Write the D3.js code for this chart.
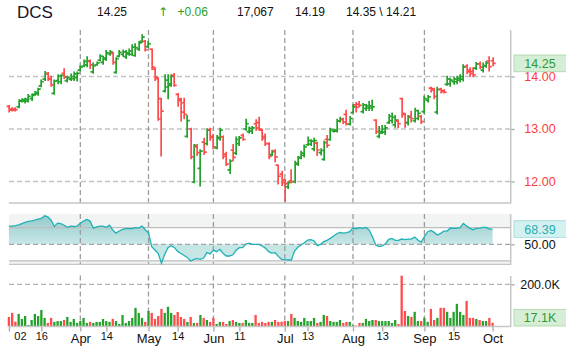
<!DOCTYPE html>
<html>
<head>
<meta charset="utf-8">
<script src="https://cdn.jsdelivr.net/npm/d3@7"></script>
<style>
  body { margin: 0; background: #fff; }
  svg { display: block; font-family: "Liberation Sans", Arial, sans-serif; }
</style>
</head>
<body>
<svg id="chart" width="566" height="348"></svg>
<script>
// ---- DCS daily bars, Mar 2 – Oct 1 ----
const open = [13.43,13.38,13.38,13.42,13.53,13.53,13.53,13.58,13.66,13.67,
  13.82,13.95,14.05,13.96,13.68,13.92,13.90,14.06,13.92,13.95,
  13.96,13.98,14.12,14.20,14.22,14.29,14.09,14.22,14.31,14.27,
  14.33,14.43,14.44,14.08,14.39,14.42,14.38,14.43,14.42,14.40,
  14.52,14.67,14.67,14.57,14.52,14.14,13.96,13.58,13.72,13.80,
  13.83,14.02,13.66,13.57,13.50,12.86,13.00,11.99,12.66,12.25,
  12.75,12.72,12.99,12.84,12.64,12.82,12.85,12.52,12.22,12.60,
  12.54,12.72,12.88,13.00,12.95,12.96,13.10,13.12,12.98,12.86,
  12.72,12.51,12.58,12.31,12.14,12.03,11.90,12.01,12.00,12.33,
  12.46,12.50,12.70,12.71,12.62,12.73,12.55,12.42,12.80,12.80,
  12.96,12.96,13.15,13.18,13.28,13.09,13.31,13.46,13.47,13.33,
  13.39,13.40,13.40,13.17,12.86,12.95,12.94,13.12,13.16,13.08,
  13.15,13.58,13.28,13.12,13.24,13.16,13.20,13.24,13.33,13.55,
  13.78,13.77,13.32,13.76,13.73,13.85,13.86,13.90,13.90,13.93,
  13.95,14.20,14.12,14.10,14.16,14.24,14.12,14.20,14.30,14.30];
const high = [13.44,13.40,13.40,13.55,13.57,13.58,13.65,13.66,13.71,13.77,
  13.93,14.09,14.07,14.00,13.93,14.03,14.03,14.14,14.00,14.04,
  14.08,14.08,14.20,14.31,14.37,14.31,14.25,14.27,14.41,14.38,
  14.49,14.49,14.45,14.35,14.49,14.50,14.49,14.52,14.60,14.62,
  14.66,14.79,14.68,14.66,14.52,14.16,13.97,13.58,14.03,14.03,
  14.03,14.05,13.67,13.58,13.58,13.25,13.01,12.70,12.70,12.60,
  12.82,13.00,13.01,12.89,12.87,13.01,12.86,12.55,12.41,12.70,
  12.84,12.85,12.90,13.18,13.03,13.04,13.17,13.22,12.99,12.90,
  12.73,12.59,12.60,12.31,12.19,12.03,11.99,12.22,12.38,12.47,
  12.57,12.69,12.84,12.79,12.82,12.74,12.62,12.76,12.87,13.01,
  12.99,13.18,13.22,13.20,13.35,13.23,13.46,13.50,13.52,13.48,
  13.46,13.52,13.54,13.17,13.04,13.06,13.06,13.27,13.30,13.25,
  13.17,13.58,13.29,13.25,13.33,13.39,13.35,13.25,13.62,13.63,
  13.79,13.77,13.79,13.77,13.74,14.00,13.96,13.98,14.00,14.03,
  14.22,14.22,14.16,14.16,14.26,14.27,14.25,14.28,14.37,14.35];
const low = [13.33,13.35,13.35,13.41,13.52,13.50,13.52,13.55,13.65,13.65,
  13.81,13.93,13.93,13.82,13.67,13.87,13.87,13.97,13.90,13.93,
  13.93,13.92,14.11,14.19,14.19,14.16,14.07,14.22,14.30,14.24,
  14.31,14.41,14.24,14.07,14.38,14.39,14.35,14.41,14.41,14.39,
  14.50,14.66,14.49,14.56,14.14,13.93,13.17,12.49,13.71,13.58,
  13.82,13.82,13.44,13.16,13.20,12.85,12.44,11.98,12.50,11.92,
  12.52,12.70,12.79,12.63,12.63,12.79,12.44,12.31,12.16,12.40,
  12.52,12.69,12.79,12.98,12.93,12.92,12.98,12.98,12.79,12.69,
  12.44,12.50,12.38,11.96,11.93,11.63,11.87,11.98,11.98,12.31,
  12.44,12.47,12.69,12.69,12.59,12.50,12.51,12.41,12.66,12.79,
  12.95,12.95,13.14,13.11,13.08,13.08,13.31,13.33,13.43,13.31,
  13.36,13.36,13.36,12.92,12.84,12.92,12.90,13.11,13.12,13.04,
  13.03,13.23,13.04,13.08,13.14,13.14,13.18,13.11,13.31,13.52,
  13.71,13.58,13.29,13.69,13.69,13.84,13.82,13.86,13.87,13.90,
  13.92,14.06,14.01,14.00,14.14,14.16,14.09,14.18,14.11,14.21];
const close = [13.36,13.36,13.37,13.54,13.56,13.57,13.62,13.64,13.70,13.76,
  13.90,14.06,13.95,13.84,13.91,14.01,14.02,13.99,13.98,14.00,
  14.05,14.06,14.18,14.29,14.30,14.22,14.20,14.26,14.39,14.35,
  14.45,14.47,14.27,14.34,14.46,14.47,14.45,14.49,14.56,14.55,
  14.64,14.75,14.51,14.62,14.18,13.99,13.19,13.34,13.93,13.86,
  14.00,13.83,13.54,13.32,13.28,13.16,12.47,12.69,12.55,12.58,
  12.56,12.98,12.86,12.66,12.84,12.98,12.48,12.33,12.39,12.46,
  12.80,12.83,12.80,13.10,13.01,13.02,13.02,13.00,12.82,12.72,
  12.48,12.57,12.47,12.10,11.98,11.96,11.98,11.99,12.35,12.45,
  12.54,12.66,12.78,12.77,12.78,12.60,12.59,12.74,12.69,12.99,
  12.98,13.15,13.19,13.13,13.10,13.20,13.42,13.41,13.45,13.46,
  13.44,13.44,13.42,12.95,12.92,13.00,13.02,13.24,13.22,13.17,
  13.10,13.30,13.12,13.22,13.20,13.35,13.30,13.14,13.58,13.61,
  13.74,13.62,13.75,13.71,13.70,13.95,13.93,13.95,13.97,14.00,
  14.18,14.09,14.06,14.03,14.24,14.18,14.21,14.26,14.19,14.25];
const volume = [44600,64000,22000,59000,35000,49000,6000,30000,59000,49000,
  78000,40000,16000,40000,21000,25000,25000,30000,44600,21000,
  35000,16000,25000,40000,16000,21000,16000,21000,21000,35000,
  25000,21000,35000,25000,11000,54000,16000,25000,40000,88000,
  64000,40000,21000,73000,64000,35000,49000,83000,64000,93000,
  64000,54000,68000,44600,35000,21000,44600,16000,16000,54000,
  40000,30000,21000,40000,11000,21000,21000,11000,25000,30000,
  21000,16000,16000,30000,16000,16000,54000,16000,21000,16000,
  21000,21000,30000,21000,22000,25000,25000,59000,40000,25000,
  21000,40000,25000,25000,40000,16000,21000,54000,49000,25000,
  21000,21000,30000,16000,21000,21000,6000,3000,16000,16000,
  35000,25000,30000,30000,25000,25000,25000,25000,16000,30000,
  11000,241000,73000,49000,45000,69000,25000,25000,40000,21000,
  83000,30000,40000,88000,88000,69000,40000,69000,107000,69000,
  54000,121000,40000,40000,35000,30000,25000,25000,40000,17067];
const rsi = [72,72,72.5,73.5,75,76.5,77.5,78.2,79.2,80.4,
  81.2,84.4,83,79,71.5,75.5,75,73,70.4,72,
  71.5,72,75.3,78,80,78,69.5,71,72,72,
  70.5,73,67.2,63.5,66,68,69,69,69,70,
  69.5,72,67.5,64,47.2,43.2,39,27.2,38,46,
  48.4,46,41.5,39,36.5,34,30,32,32.8,32,
  33.5,40,38.5,43,41.2,44,39,36,36,37.5,
  43,46,46,50.2,51.4,50,50,50,48,45.5,
  41.2,39.5,40,35.5,32,31.5,31.2,31.2,42,46.4,
  49.2,52,55.2,55.6,54.4,48.4,50,53.2,54.8,57.2,
  60,62.8,64.4,63.6,64,65.2,69.6,68.8,70,69.2,
  70.4,67.2,59.2,49.2,47.2,48,50.8,56,57.2,54.8,
  54.8,56.4,55.6,56.4,56.4,58.8,55.2,52.4,59.2,65.2,
  66.8,64.4,61.2,63.2,66,66,69.6,69.2,69.2,70,
  75.2,72,69.2,67.6,69.2,69.6,70.4,70.4,68.4,68.39];

// x-axis ticks (bar index) and their labels
const tickIndex = [0,10,22,30,43,52,63,71,85,92,106,115,128,137,149];
const tickLabel = ["02","16","Apr","14","May","14","Jun","11","Jul","13","Aug","13","Sep","15","Oct"];
const monthStarts = [22,43,63,85,106,128];
const priceTicks = [12,13,14];
const rsiBands = [70,50,30];
const volumeTicks = [200000];
const header = { symbol: "DCS", last: "14.25", change: "+0.06", vol: "17,067", prev: "14.19", hiLo: "14.35 \\ 14.21" };

const UP = "#23a12a", DOWN = "#ff4b4b";
const GRID_V = "#9c9c9c", GRID_H = "#c2c2c2", FRAME = "#c6c6c6";

const svg = d3.select("#chart");
const left = 9, right = 510.7;

const x = d3.scaleLinear().domain([0, 154.4]).range([8.9, 510.1]);
const yP = d3.scaleLinear().domain([11.59, 14.886]).range([203, 30]);
const yR = d3.scaleLinear().domain([26, 86.5]).range([264.3, 214]);
const yV = d3.scaleLinear().domain([0, 242000]).range([326.3, 275.5]);

const n = close.length;
const idx = d3.range(n);
const colorOf = i => close[i] >= open[i] ? UP : DOWN;

// ---------- header ----------
const hdr = svg.append("g").attr("font-size", 12).attr("fill", "#111");
hdr.append("text").attr("x", 17).attr("y", 17.5).attr("font-size", 17).attr("fill", "#15132b").text(header.symbol);
hdr.append("text").attr("x", 97).attr("y", 16).text(header.last);
hdr.append("text").attr("x", 158).attr("y", 16).attr("fill", UP).attr("font-family", "DejaVu Sans").attr("font-size", 12).text("\u2191");
hdr.append("text").attr("x", 177.5).attr("y", 16).attr("fill", UP).text(header.change);
hdr.append("text").attr("x", 237).attr("y", 16).text(header.vol);
hdr.append("text").attr("x", 295).attr("y", 16).text(header.prev);
hdr.append("text").attr("x", 346).attr("y", 16).text(header.hiLo);

// ---------- helpers ----------
function vGrid(y0, y1) {
  svg.append("g").selectAll("line").data(monthStarts).join("line")
    .attr("x1", d => x(d)).attr("x2", d => x(d))
    .attr("y1", y0).attr("y2", y1)
    .attr("stroke", GRID_V).attr("stroke-width", 1.3).attr("stroke-dasharray", "5,3");
}
function hLine(y, dashed, color) {
  svg.append("line").attr("x1", left).attr("x2", right).attr("y1", y).attr("y2", y)
    .attr("stroke", color).attr("stroke-width", 1.3)
    .attr("stroke-dasharray", dashed ? "5,3" : null);
}
function rightAxis(scale, values, fmt, y0, y1, color) {
  const g = svg.append("g").attr("transform", `translate(${right},0)`)
    .call(d3.axisRight(scale).tickValues(values).tickFormat(fmt).tickSize(4).tickPadding(0));
  g.select(".domain").remove();
  g.selectAll(".tick line").attr("stroke", "#a8a8a8").attr("stroke-width", 1.3);
  g.selectAll(".tick text").attr("x", 540 - right).attr("text-anchor", "middle")
    .attr("font-size", 12.5).attr("font-family", "Liberation Sans, Arial, sans-serif").attr("fill", color);
  svg.append("line").attr("x1", right).attr("x2", right).attr("y1", y0).attr("y2", y1)
    .attr("stroke", FRAME).attr("stroke-width", 1.5);
}
function valueBox(cy, text, fill, stroke, color) {
  const g = svg.append("g");
  g.append("rect").attr("x", 514).attr("y", cy - 8.3).attr("width", 53).attr("height", 16.6)
    .attr("fill", fill).attr("stroke", stroke).attr("stroke-width", 1);
  g.append("text").attr("x", 540).attr("y", cy).attr("dy", "0.36em").attr("text-anchor", "middle")
    .attr("font-size", 12.5).attr("fill", color).text(text);
}

// ---------- price panel ----------
priceTicks.forEach(v => hLine(yP(v), true, GRID_H));
vGrid(30, 203);
hLine(203, false, FRAME);
rightAxis(yP, priceTicks, d3.format(".2f"), 30, 203.5, "#ff3b3b");

const bars = svg.append("g").attr("stroke-width", 1.7).attr("fill", "none");
bars.selectAll("path").data(idx).join("path")
  .attr("stroke", colorOf)
  .attr("d", i => {
    const cx = Math.round(x(i)) + 0.15;
    return `M${cx},${yP(high[i]) - 0.8}V${yP(low[i]) + 0.8}` +
           `M${cx - 2.6},${yP(open[i])}H${cx}` +
           `M${cx},${yP(close[i])}H${cx + 2.6}`;
  });

valueBox(yP(close[n - 1]), close[n - 1].toFixed(2), "#d6eed6", "#b3dbb3", "#2f9a35");

// ---------- RSI panel ----------
svg.append("rect").attr("x", left).attr("y", 214).attr("width", right - left).attr("height", yR(70) - 214).attr("fill", "#f2f4f4");
svg.append("rect").attr("x", left).attr("y", yR(30)).attr("width", right - left).attr("height", 264.3 - yR(30)).attr("fill", "#f2f4f4");

const defs = svg.append("defs");
const grad = defs.append("linearGradient").attr("id", "rsiUp")
  .attr("gradientUnits", "userSpaceOnUse").attr("x1", 0).attr("x2", 0).attr("y1", 214).attr("y2", yR(50));
grad.append("stop").attr("offset", 0).attr("stop-color", "#92c9c9");
grad.append("stop").attr("offset", 1).attr("stop-color", "#c9e7e7");
defs.append("clipPath").attr("id", "above").append("rect")
  .attr("x", 0).attr("y", 200).attr("width", 566).attr("height", yR(50) - 200);
defs.append("clipPath").attr("id", "below").append("rect")
  .attr("x", 0).attr("y", yR(50)).attr("width", 566).attr("height", 80);

const rsiArea = d3.area().x(i => x(i)).y0(yR(50)).y1(i => yR(rsi[i]));
svg.append("path").datum(idx).attr("d", rsiArea).attr("fill", "url(#rsiUp)").attr("clip-path", "url(#above)");
svg.append("path").datum(idx).attr("d", rsiArea).attr("fill", "#c6e6e6").attr("clip-path", "url(#below)");

hLine(yR(70), false, "#bdbdbd");
hLine(yR(30), false, "#bdbdbd");
hLine(yR(50), true, "#a6a6a6");
vGrid(214, 264.3);
hLine(264.3, false, FRAME);

svg.append("path").datum(idx)
  .attr("d", d3.line().x(i => x(i)).y(i => yR(rsi[i])))
  .attr("fill", "none").attr("stroke", "#1eb1b6").attr("stroke-width", 1.3);

rightAxis(yR, [50], d3.format(".2f"), 214, 264.8, "#111");
valueBox(yR(rsi[n - 1]), rsi[n - 1].toFixed(2), "#d3f1f1", "#a9dede", "#26aeb3");

// ---------- volume panel ----------
volumeTicks.forEach(v => hLine(yV(v), true, "#b4b4b4"));
vGrid(275.5, 326.3);

svg.append("g").selectAll("rect").data(idx).join("rect")
  .attr("x", i => x(i) - 1.15).attr("width", 2.3)
  .attr("y", i => yV(volume[i])).attr("height", i => yV(0) - yV(volume[i]))
  .attr("fill", colorOf);

rightAxis(yV, volumeTicks, d => (d / 1000).toFixed(1) + "K", 276, 327, "#111");
const vLast = volume[n - 1];
valueBox(Math.min(yV(vLast), 326 - 8.3), (vLast / 1000).toFixed(1) + "K", "#d6eed6", "#b3dbb3", "#2f9a35");

// ---------- x axis ----------
const xa = svg.append("g").attr("transform", "translate(0,326.5)")
  .call(d3.axisBottom(x).tickValues(tickIndex).tickFormat((d, k) => tickLabel[k]).tickSize(5).tickPadding(2));
xa.select(".domain").remove();
svg.append("line").attr("x1", left).attr("x2", right).attr("y1", 326.5).attr("y2", 326.5)
  .attr("stroke", FRAME).attr("stroke-width", 1.5);
xa.selectAll(".tick line").attr("stroke", "#a8a8a8").attr("stroke-width", 1.3);
xa.selectAll(".tick text")
  .attr("font-family", "Liberation Sans, Arial, sans-serif")
  .attr("fill", "#111")
  .each(function (d, k) {
    const isMonth = isNaN(+tickLabel[k]);
    d3.select(this)
      .attr("font-size", isMonth ? 13 : 11)
      .attr("y", isMonth ? 16 : 13.5)
      .attr("dy", 0)
      .attr("dx", k === 0 ? 11 : 0);
  });
</script>
</body>
</html>
